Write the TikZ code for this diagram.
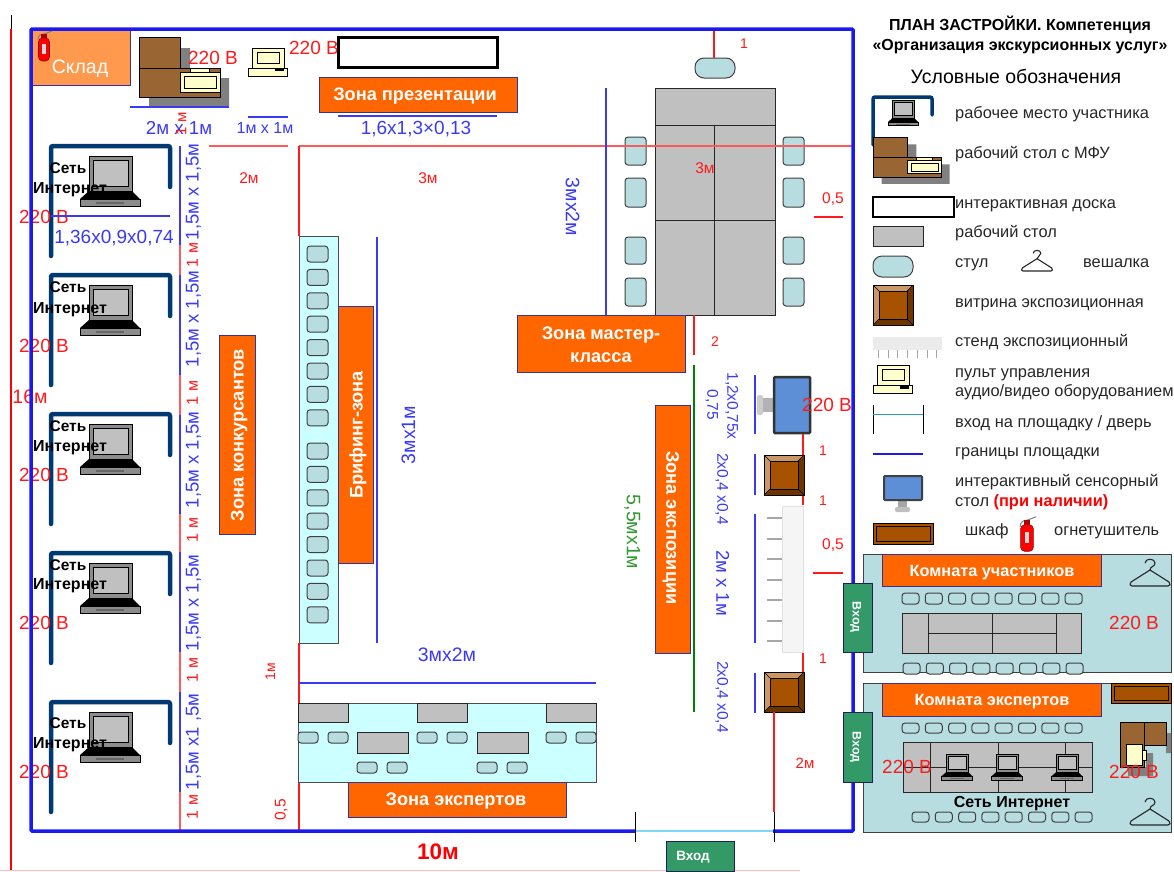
\documentclass[tikz,border=0pt]{standalone}
\usepackage{fontspec}
\setmainfont{Liberation Sans}
\definecolor{zoneorange}{HTML}{FF6600}
\definecolor{zoneline}{HTML}{333399}
\definecolor{planblue}{HTML}{1A1AF0}
\definecolor{dimblue}{HTML}{3A3AF5}
\definecolor{dimred}{HTML}{FF1A1A}
\definecolor{palered}{HTML}{FF5A5A}
\definecolor{seatfill}{HTML}{B8DDE1}
\definecolor{deskgrey}{HTML}{C0C0C0}
\definecolor{wallnavy}{HTML}{003A70}
\definecolor{mfubrown}{HTML}{996633}
\definecolor{shelfbrown}{HTML}{A65200}
\definecolor{cream}{HTML}{FFFFCC}
\definecolor{gategreen}{HTML}{339966}
\definecolor{areacyan}{HTML}{CCFFFF}
\definecolor{skladorange}{HTML}{FF994D}
\definecolor{screenblue}{HTML}{5C8FD6}
\definecolor{dimgreen}{HTML}{339933}
\tikzset{
	fs/.style={font=\fontsize{#1}{#1}\selectfont,text height=#1*.72pt,text depth=0pt},
	fsb/.style={font=\fontsize{#1}{#1}\selectfont\bfseries,text height=#1*.72pt,text depth=0pt},
	redtxt/.style={text=dimred,inner sep=0pt},
	bluetxt/.style={text=dimblue,inner sep=0pt},
	volt/.style={redtxt,fs=19},
	legendtxt/.style={anchor=west,inner sep=0pt,text=black!85,fs=16.4},
	zonebox/.style={draw=zoneline,fill=zoneorange,line width=1pt},
	zonetxt/.style={text=white,inner sep=0pt,fsb=18.2},
	seat/.style={draw=black!75,fill=seatfill,line width=1pt,rounded corners=3pt},
	desk/.style={draw=black!85,fill=deskgrey,line width=1pt},
	area/.style={draw=black!70,fill=areacyan,line width=1pt},
	roombox/.style={draw=black!75,fill=seatfill,line width=1pt},
	gatebox/.style={draw=zoneline!60!black,fill=gategreen,line width=1pt},
	gatetxt/.style={text=white,inner sep=0pt,fsb=12.4},
	reddim/.style={dimred,line width=1.2pt},
	pinkdim/.style={palered,line width=1.2pt},
	bluedim/.style={dimblue,line width=1.2pt},
	laptop/.pic={
		\fill[black!55] (-30,18) rectangle (30,25);
		\draw[fill=black!45,line width=.8pt] (-30,18) rectangle (30,25);
		\fill[black] (-21,10) -- (22,10) -- (30,18) -- (-30,18) -- cycle;
		\draw[fill=black!45,line width=.8pt] (-21,-25) rectangle (22,10);
		\draw[fill=deskgrey,line width=.8pt] (-17,-21) rectangle (18,5);
		\fill[black!60] (-14,21) rectangle (14,23);
	},
	console/.pic={
		\draw[fill=cream,line width=.8pt] (-15.5,-14) rectangle (16.5,6);
		\draw[fill=cream,line width=.8pt] (-10.5,-10) rectangle (11.5,1);
		\draw[fill=cream,line width=.8pt] (-19.5,6) rectangle (19.5,14);
		\fill[black] (7.5,6) rectangle (16.5,9);
	},
	hanger/.pic={
		\draw[black!85,line width=1.1pt,line join=round] (-5,-10) .. controls (-5,-15) and (5,-15) .. (5,-10)
			.. controls (5,-6) and (0,-7) .. (0,-3) -- (19,9) .. controls (21,11) and (20,13) .. (18,13)
			-- (-18,13) .. controls (-20,13) and (-21,11) .. (-19,9) -- (0,-3);
	},
	extinguisher/.pic={
		\draw[black!50,line width=1pt] (-6,-6) .. controls (-6,-11) and (-3,-12) .. (0,-12) -- (8,-15);
		\fill[red!70!black] (-3,-12) rectangle (3,-7);
		\draw[red!60!black,fill=red,line width=.6pt,rounded corners=4pt] (-5.5,-8) rectangle (5.5,15);
		\fill[black!15] (-2,-2) rectangle (2,8);
	},
	workplace/.pic={
		\draw[wallnavy,line width=4.5pt,line cap=round,rounded corners=2pt] (0,110) -- (0,0) -- (119,0) -- (119,41);
	},
	vitrine/.pic={
		\draw[fill=shelfbrown!60!white,line width=1pt] (0,0) rectangle (40,40);
		\fill[shelfbrown!65!black] (0,40) -- (6,34) -- (34,34) -- (40,40) -- cycle;
		\fill[shelfbrown!65!black] (40,40) -- (34,34) -- (34,6) -- (40,0) -- cycle;
		\draw[fill=shelfbrown,line width=1pt] (6,6) rectangle (34,34);
		\draw[line width=.6pt] (0,0) -- (6,6) (40,0) -- (34,6) (0,40) -- (6,34) (40,40) -- (34,34);
	},
	mfudesk/.pic={
		\fill[black!50] (41,11) rectangle (51,31) (10,60) rectangle (90,70) (81,41) rectangle (90,60);
		\draw[fill=mfubrown,line width=1pt] (0,0) rectangle (41,31);
		\draw[fill=mfubrown,line width=1pt] (0,31) rectangle (81,60);
		\draw[fill=cream,line width=.8pt] (51,31) rectangle (70,38);
		\draw[fill=cream,line width=.8pt] (41,35) rectangle (81,55);
		\draw[fill=cream,line width=.8pt] (45,39) rectangle (77,51);
	},
}
\begin{document}
\begin{tikzpicture}[x=1pt,y=-1pt]
	\useasboundingbox (0,0) rectangle (1174,871);
	\draw[black,line width=1pt] (11,15) -- (11,29);%left margin
	\draw[red,line width=1.2pt] (11,29) -- (11,871);
	\draw[red!25,line width=1pt] (0,870) -- (800,870);

	%sklad corner
	\draw[zoneline,fill=skladorange,line width=1pt] (32,29) rectangle (130,85);
	\node[text=white,inner sep=0pt,fs=19.5] (skladTxt) at (80,66) {Склад};
	\pic at (44,46) {extinguisher};

	%top row
	\pic at (139,37) {mfudesk};
	\draw[bluedim] (130,107) -- (229,107);
	\node[volt] (voltDesk) at (213,58) {220 В};
	\pic at (267.5,62) {console};
	\node[volt] (voltConsole) at (314,48) {220 В};
	\draw[black,line width=3pt,fill=white] (338,37) rectangle (497,67);
	\draw[zonebox] (319,77) rectangle (517,112);
	\node[zonetxt] (zonePresent) at (415,94) {Зона презентации};
	\draw[bluedim] (338,116) -- (497,116);
	\node[bluetxt,fs=19] (dimBoard) at (416,128) {1,6х1,3×0,13};
	\node[bluetxt,fs=18.7] (dimDesk) at (179,128) {2м х 1м};
	\node[redtxt,fs=15,rotate=90] (dimGap) at (181,124) {1 м};
	\draw[bluedim] (248,117) -- (288,117);
	\node[bluetxt,fs=16] (dimConsole) at (265,128) {1м х 1м};
	\node[redtxt,fs=15.5] (dimTwo) at (249,178) {2м};
	\node[redtxt,fs=15.5] (dimThree) at (428,178) {3м};

	%work places left
	\foreach \ytop/\net/\inet/\volty in {146/168/188/217,275/287/308/346,414/426/446/475,553/565/584/623,702/723/743/772}{
		\pic at (51,\ytop) {workplace};
		\pic at (110,\ytop+35) {laptop};
		\node[inner sep=0pt,fsb=15.5] (net\ytop) at (68,\net) {Сеть};
		\node[inner sep=0pt,fsb=16] (inet\ytop) at (70,\inet) {Интернет};
		\node[volt] (volt\ytop) at (44,\volty) {220 В};
	}
	\draw[bluedim] (51,216) -- (170,216);
	\node[bluetxt,fs=19] (dimPlace) at (114,237) {1,36х0,9х0,74};
	\node[redtxt,fs=19.5] (dimHeight) at (30,396) {16м};

	%dim column
	\foreach \a/\b in {146/245,275/375,415/514,552/652,692/792}
		\draw[bluedim] (180,\a) -- (180,\b);
	\foreach \a/\b in {245/275,375/415,514/552,652/692,792/831}
		\draw[pinkdim] (180,\a) -- (180,\b);
	\foreach \c/\txt in {192/{1,5м х 1,5м},319/{1,5м х 1,5м},460/{1,5м х 1,5м},603/{1,5м х 1,5м},742/{1,5м х1 ,5м}}
		\node[bluetxt,fs=18.5,rotate=90] (dimCol\c) at (192,\c) {\txt};
	\foreach \c in {255,393,530,670,807}
		\node[redtxt,fs=16,rotate=90] (dimRed\c) at (192,\c) {1 м};

	%zona konkursantov
	\draw[zonebox] (219,335) rectangle (255,534);
	\node[zonetxt,rotate=90] (zoneComp) at (237,435) {Зона конкурсантов};

	%briefing
	\draw[area] (299,236) rectangle (338,643);
	\foreach \i in {0,...,7}{
		\draw[seat] (307,246+\i*23.4) rectangle +(21,16);
		\draw[seat] (307,443+\i*23.4) rectangle +(21,16);
	}
	\draw[zonebox] (338,306) rectangle (373,563);
	\node[zonetxt,rotate=90] (zoneBrief) at (356,435) {Брифинг-зона};
	\draw[bluedim] (377,237) -- (377,643);
	\node[bluetxt,fs=19.5,rotate=90] (dimBrief) at (408,435) {3мх1м};

	%master class
	\draw[desk] (655,88) rectangle (775,315);
	\draw[black!85,line width=1pt] (655,125) -- (775,125) (655,220) -- (775,220) (714,125) -- (714,315);
	\draw[seat,rounded corners=9pt] (695,58) rectangle (735,78);
	\foreach \a/\b in {137/165,178/207,237/264,278/306}{
		\draw[seat] (625,\a) rectangle (646,\b);
		\draw[seat] (783,\a) rectangle (804,\b);
	}
	\draw[reddim] (714,28) -- (714,58);
	\node[redtxt,fs=14] (dimOne) at (744,43) {1};
	\draw[palered,line width=1.5pt] (209,146) -- (288,146);
	\draw[palered,line width=1.5pt] (299,146) -- (853,146);
	\draw[reddim] (299,146) -- (299,236);
	\draw[reddim] (299,643) -- (299,831);
	\node[redtxt,fs=15.5] (dimTable) at (705,168) {3м};
	\node[redtxt,fs=15.5] (dimEdge) at (833,198) {0,5};
	\draw[reddim] (814,217) -- (843,217);
	\draw[bluedim] (606,88) -- (606,315);
	\node[bluetxt,fs=19.5,rotate=-90] (dimMaster) at (573,207) {3мх2м};
	\draw[zonebox] (517,315) rectangle (685,372);
	\node[zonetxt] (zoneMasterA) at (601,333) {Зона мастер-};
	\node[zonetxt] (zoneMasterB) at (601,356) {класса};
	\draw[reddim] (694,315) -- (694,355);
	\node[redtxt,fs=14] (dimTwoB) at (715,341) {2};

	%exposition
	\draw[zonebox] (655,405) rectangle (690,653);
	\node[zonetxt,rotate=-90] (zoneExpo) at (673,528) {Зона экспозиции};
	\draw[green!50!black,line width=1.2pt] (694,365) -- (694,712);
	\node[inner sep=0pt,text=dimgreen,fs=19.5,rotate=-90] (dimExpo) at (634,532) {5,5мх1м};
	\node[bluetxt,fs=15.5,rotate=-90] (dimScreen) at (733,406) {1,2х0,75х};
	\node[bluetxt,fs=15.5,rotate=-90] (dimScreenB) at (713,405) {0,75};
	\node[bluetxt,fs=15.5,rotate=-90] (dimVitA) at (723,489) {2х0,4 х0,4};
	\node[bluetxt,fs=18.5,rotate=-90] (dimStand) at (723,583) {2м х 1м};
	\node[bluetxt,fs=15.5,rotate=-90] (dimVitB) at (723,697) {2х0,4 х0,4};
	\foreach \a/\b in {375/434,454/495,514/643,673/713}
		\draw[bluedim] (755,\a) -- (755,\b);
	\fill[black!20,rounded corners=2pt] (757,395) rectangle (763,415);%screen foot
	\fill[black!30] (763,398) rectangle (773,412);
	\draw[black!80,fill=screenblue,line width=2.5pt,rounded corners=1pt] (774,377) rectangle (810,433);
	\node[volt] (voltScreen) at (827,405) {220 В};
	\draw[reddim] (803,434) -- (803,505);
	\pic at (764,455) {vitrine};
	\fill[black!35] (767,517) rectangle (782,519);
	\foreach \i in {1,...,6}
		\fill[black!35] (767,517+\i*20.5) rectangle (782,519+\i*20.5);
	\draw[black!12,fill=black!4,line width=1pt] (782,506) rectangle (803,652);
	\draw[reddim] (803,653) -- (803,683);
	\pic at (764,672) {vitrine};
	\node[redtxt,fs=14] (dimA) at (823,450) {1};
	\node[redtxt,fs=14] (dimB) at (823,500) {1};
	\node[redtxt,fs=14] (dimC) at (823,658) {1};
	\node[redtxt,fs=15.5] (dimD) at (833,544) {0,5};
	\draw[reddim] (813,573) -- (843,573);
	\draw[reddim] (774,712) -- (774,812);
	\node[redtxt,fs=15] (dimE) at (805,763) {2м};

	%zona ekspertov
	\draw[bluedim] (299,683) -- (596,683);
	\node[bluetxt,fs=19.5] (dimExp) at (447,654) {3мх2м};
	\draw[area] (298,703) rectangle (596,782);
	\foreach \a in {298,417,546}
		\draw[desk] (\a,703) rectangle +(50,19);
	\foreach \a in {357,477}
		\draw[desk] (\a,732) rectangle +(51,21);
	\foreach \a in {298,328,417,447,546,576}
		\draw[seat] (\a,732) rectangle +(20,11);
	\foreach \a in {357,387,477,507}
		\draw[seat] (\a,762) rectangle +(20,11);
	\draw[zonebox] (348,782) rectangle (566,817);
	\node[zonetxt] (zoneExp) at (456,799) {Зона экспертов};
	\node[redtxt,fs=14,rotate=90] (dimF) at (270,672) {1м};
	\node[redtxt,fs=15.5,rotate=90] (dimG) at (280,810) {0,5};

	%border
	\draw[planblue,line width=3.5pt,rounded corners=1pt] (635,831) -- (31,831) -- (31,29) -- (853,29) -- (853,831) -- (773,831);
	\draw[cyan!50!white,line width=1.5pt] (635,831) -- (773,831);
	\draw[black,line width=1pt] (635,812) -- (635,842) (774,812) -- (774,842);
	\draw[gatebox] (666,841) rectangle (734,871);
	\node[gatetxt,fsb=13.5] (gateMain) at (693,856) {Вход};
	\node[text=red,inner sep=0pt,fsb=22.5] (dimWidth) at (438,851) {10м};

	%room participants
	\draw[roombox] (863,554) rectangle (1171,672);
	\draw[zonebox] (882,554) rectangle (1101,586);
	\node[zonetxt,fsb=16.3] (roomA) at (992,571) {Комната участников};
	\foreach \i in {0,...,7}{
		\draw[seat] (902+\i*23.3,593) rectangle +(17,11);
		\draw[seat] (903+\i*23.3,663) rectangle +(17,11);
	}
	\draw[desk] (902,613) rectangle (1081,653);
	\draw[black!85,line width=1pt] (928,613) -- (928,653) (992,613) -- (992,653) (1056,613) -- (1056,653) (928,633) -- (1056,633);
	\node[volt] (voltA) at (1134,623) {220 В};
	\pic at (1150,573) {hanger};
	\draw[gatebox] (843,583) rectangle (872,652);
	\node[gatetxt,rotate=-90] (gateA) at (857,617) {Вход};

	%room experts
	\draw[roombox] (863,683) rectangle (1171,832);
	\draw[zonebox] (882,683) rectangle (1101,716);
	\node[zonetxt,fsb=16.3] (roomB) at (992,700) {Комната экспертов};
	\draw[black,line width=1pt,fill=shelfbrown] (1111,683) rectangle (1171,703);
	\draw[black,line width=.6pt] (1114,686) rectangle (1168,700);
	\foreach \i in {0,...,7}{
		\draw[seat] (902+\i*23.3,723) rectangle +(17,10);
		\draw[seat] (912+\i*23.3,812) rectangle +(17,10);
	}
	\draw[desk] (903,742) rectangle (1092,792);
	\draw[black!85,line width=1pt] (930,742) -- (930,792) (998,742) -- (998,792) (1065,742) -- (1065,792) (903,767) -- (1092,767);
	\foreach \a in {957,1007,1067}
		\pic[scale=.52] at (\a,767) {laptop};
	\node[volt] (voltB) at (907,767) {220 В};
	\node[inner sep=0pt,fsb=16] (netRoom) at (1012,802) {Сеть Интернет};
	\fill[black!50] (1166,733) rectangle (1171,753) (1146,753) rectangle (1153,776) (1128,767) rectangle (1153,776);%rotated desk
	\draw[fill=mfubrown,line width=1pt] (1120,722) rectangle (1144,767);
	\draw[fill=mfubrown,line width=1pt] (1144,722) rectangle (1166,745);
	\draw[fill=cream,line width=.8pt] (1142,750) rectangle (1146,760);
	\draw[fill=cream,line width=.8pt] (1126,744) rectangle (1142,765);
	\node[volt] (voltC) at (1134,772) {220 В};
	\pic at (1150,812) {hanger};
	\draw[gatebox] (843,712) rectangle (872,782);
	\node[gatetxt,rotate=-90] (gateB) at (857,747) {Вход};

	%legend
	\node[inner sep=0pt,fsb=16] (titleA) at (1020,25) {ПЛАН ЗАСТРОЙКИ. Компетенция};
	\node[inner sep=0pt,fsb=16] (titleB) at (1020,45) {«Организация экскурсионных услуг»};
	\node[inner sep=0pt,fs=19.5] (titleC) at (1016,76) {Условные обозначения};
	\draw[wallnavy,line width=3.5pt,line cap=round,rounded corners=2pt] (873,145) -- (873,97) -- (932,97) -- (932,115);
	\pic[scale=.5] at (903,113) {laptop};
	\pic[xscale=.85,yscale=.67] at (873,137) {mfudesk};
	\draw[black,line width=2.5pt,fill=white] (873,197) rectangle (954,217);
	\draw[desk] (873,226) rectangle (923,246);
	\draw[seat,rounded corners=9pt] (873,256) rectangle (913,277);
	\pic[scale=.77] at (1037,261) {hanger};
	\pic at (873,285) {vitrine};
	\fill[black!8] (873,337) rectangle (942,350);%stand
	\foreach \i in {0,...,6}
		\fill[black!35] (878+\i*9.7,350) rectangle +(1,8);
	\pic at (892.5,379.5) {console};
	\draw[black,line width=1pt] (873,405) -- (873,434) (923,405) -- (923,434);
	\draw[cyan!80!black,line width=1pt] (873,414) -- (923,414);
	\draw[planblue,line width=2.5pt] (873,454) -- (923,454);
	\fill[black!25,rounded corners=2pt] (895,507) rectangle (910,512);%monitor foot
	\fill[black!35] (898,500) rectangle (907,507);
	\draw[black!75,fill=screenblue,line width=2pt,rounded corners=1pt] (884,476) rectangle (922,500);
	\draw[black,line width=1pt,fill=shelfbrown] (873,523) rectangle (933,544);
	\draw[black,line width=.6pt] (876,526) rectangle (930,541);
	\pic[scale=1.15] at (1027,534) {extinguisher};
	\node[legendtxt] (lgPlace) at (955,113) {рабочее место участника};
	\node[legendtxt] (lgMfu) at (955,153) {рабочий стол с МФУ};
	\node[legendtxt] (lgBoard) at (955,203) {интерактивная доска};
	\node[legendtxt] (lgDesk) at (955,232) {рабочий стол};
	\node[legendtxt] (lgSeat) at (955,262) {стул};
	\node[legendtxt] (lgHanger) at (1083,262) {вешалка};
	\node[legendtxt] (lgVitrine) at (955,302) {витрина экспозиционная};
	\node[legendtxt] (lgStand) at (955,341) {стенд экспозиционный};
	\node[legendtxt] (lgDeskA) at (955,372) {пульт управления};
	\node[legendtxt] (lgDeskB) at (955,391) {аудио/видео оборудованием};
	\node[legendtxt] (lgDoor) at (955,422) {вход на площадку / дверь};
	\node[legendtxt] (lgBounds) at (955,451) {границы площадки};
	\node[legendtxt] (lgTouchA) at (955,481) {интерактивный сенсорный};
	\node[legendtxt] (lgTouchB) at (955,501) {стол \textcolor{red}{\bfseries (при наличии)}};
	\node[legendtxt] (lgShelf) at (965,530) {шкаф};
	\node[legendtxt] (lgExt) at (1054,530) {огнетушитель};
\end{tikzpicture}
\end{document}
